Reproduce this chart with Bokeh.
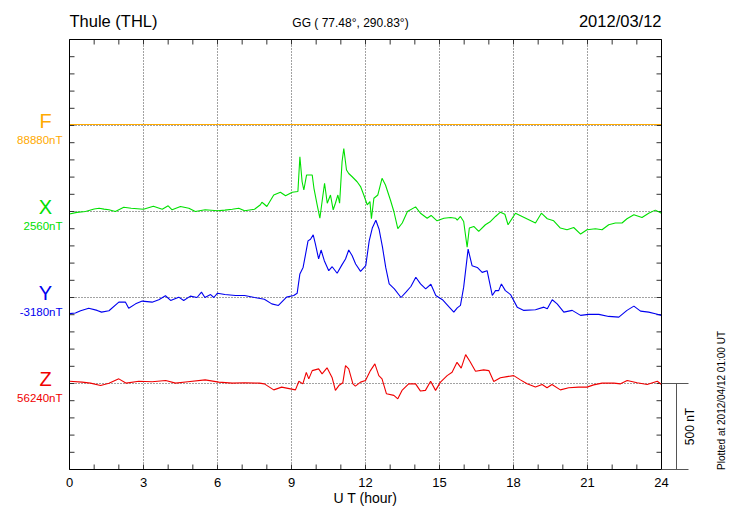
import numpy as np
from bokeh.plotting import figure
from bokeh.models import Range1d, Label
from bokeh.embed import file_html
from bokeh.resources import INLINE

# ---------------- data ----------------
station = "Thule (THL)"
coords = "GG ( 77.48°, 290.83°)"
date = "2012/03/12"
plotted = "Plotted at 2012/04/12 01:00 UT"
scale_text = "500 nT"
x_label = "U T (hour)"

components = ["F", "X", "Y", "Z"]
base_labels = ["88880nT", "2560nT", "-3180nT", "56240nT"]
offsets = [2000, 1500, 1000, 500]          # stacking position of each component (nT)
colors = ["#FFAA00", "#00E000", "#0000F0", "#F00000"]

x_ticks = [0, 3, 6, 9, 12, 15, 18, 21, 24]
x_tick_labels = ["0", "3", "6", "9", "12", "15", "18", "21", "24"]
hour_ticks = list(range(0, 25))
y_minor = list(range(0, 2501, 100))
scale_nt = 500

f_hours = [0, 6, 12, 18, 24]
f_dev = [6, 6, 6, 6, 6]

x_hours = [0.0, 0.3, 0.65, 1.0, 1.2, 1.4, 1.6, 1.86, 2.2, 2.5, 3.0, 3.4, 3.76, 4.0, 4.16,
           4.5, 4.84, 5.1, 5.5, 6.0, 6.3, 6.6, 6.86, 7.1, 7.5, 7.74, 7.8, 7.9, 8.0, 8.28,
           8.55, 8.76, 9.03, 9.26, 9.34, 9.43, 9.5, 9.61, 9.84, 9.91, 10.04, 10.15, 10.24,
           10.34, 10.45, 10.58, 10.69, 10.78, 10.88, 10.95, 11.05, 11.12, 11.23, 11.32,
           11.46, 11.66, 11.8, 11.93, 12.07, 12.18, 12.24, 12.34, 12.5, 12.67, 12.81,
           13.01, 13.15, 13.31, 13.49, 13.7, 14.03, 14.23, 14.5, 14.66, 14.9, 15.18,
           15.45, 15.65, 15.72, 15.85, 15.98, 16.12, 16.21, 16.39, 16.59, 16.86, 17.07,
           17.27, 17.47, 17.65, 17.78, 18.08, 18.35, 18.62, 18.89, 19.13, 19.37, 19.63,
           19.9, 20.17, 20.44, 20.72, 20.98, 21.32, 21.59, 21.86, 22.13, 22.4, 22.6,
           22.88, 23.21, 23.48, 23.75, 24.0]
x_dev = [-15, -5, 0, 15, 19, 14, 10, 0, 25, 19, 13, 30, 13, 33, 10,
         29, 19, 0, 10, 4, 8, 13, 19, 4, 13, 39, 54, 42, 29, 96,
         112, 92, 112, 116, 318, 173, 125, 212, 212, 135, 39, -39, 58,
         164, 48, 96, 10, 48, 96, 48, 289, 366, 241, 221,
         202, 173, 145, 96, 39, 58, -42, 77, 96, 193, 154,
         67, 0, -100, -67, 0, 27, -10, -39, -23, -54, -39,
         -35, -39, -50, -29, -58, -208, -96, -87, -116, -77, -58,
         -29, -4, -16, -77, -10, -29, -48, -67, -10, -42, -54,
         -96, -106, -93, -131, -106, -100, -106, -77, -67, -67, -42,
         -19, -35, -10, 8, -10]

y_hours = [0.0, 0.24, 0.45, 0.78, 1.12, 1.3, 1.6, 2.0, 2.27, 2.4, 2.68, 2.95, 3.35, 3.62,
           3.89, 4.1, 4.43, 4.63, 4.9, 5.17, 5.35, 5.49, 5.72, 5.85, 6.0, 6.3, 6.73, 7.1,
           7.5, 7.9, 8.2, 8.47, 8.6, 8.8, 9.09, 9.23, 9.34, 9.47, 9.56, 9.67, 9.77, 9.88,
           9.97, 10.1, 10.2, 10.33, 10.51, 10.65, 10.85, 11.05, 11.19, 11.32, 11.46, 11.6,
           11.8, 12.01, 12.15, 12.28, 12.42, 12.55, 12.69, 12.82, 12.96, 13.17, 13.44,
           13.64, 13.84, 14.04, 14.23, 14.44, 14.65, 14.85, 15.12, 15.33, 15.58, 15.72,
           15.85, 15.98, 16.16, 16.32, 16.53, 16.73, 16.93, 17.14, 17.27, 17.4, 17.51,
           17.67, 17.88, 18.15, 18.42, 18.89, 19.23, 19.37, 19.57, 19.77, 20.04, 20.38,
           20.72, 21.05, 21.46, 21.86, 22.27, 22.6, 22.88, 23.15, 23.48, 23.75, 24.0]
y_dev = [-94, -90, -77, -62, -75, -85, -77, -27, -27, -62, -37, -21, -27, -13,
         10, -17, 2, -17, 8, 0, 31, 0, 17, 0, 25, 17, 12, 12,
         0, -10, -37, -46, -27, 2, 12, 25, 137, 175, 243, 329, 339, 364,
         310, 224, 276, 214, 156, 179, 141, 191, 224, 276, 243, 195,
         152, 185, 329, 406, 449, 397, 291, 175, 79, 50, 0,
         31, 64, 118, 79, 50, 77, 12, -13, -46, -85, -60,
         -46, 60, 281, 185, 175, 146, 156, 12, 40, 40, 79,
         40, 17, -56, -75, -71, -56, -65, -13, -37, -85, -75,
         -104, -98, -98, -110, -114, -75, -50, -79, -85, -94, -104]

z_hours = [0.0, 0.51, 0.85, 1.26, 1.6, 2.0, 2.3, 2.81, 3.35, 3.9, 4.3, 4.8, 5.5, 6.05,
           6.6, 7.1, 7.7, 7.9, 8.28, 8.6, 9.16, 9.3, 9.46, 9.6, 9.7, 9.84, 10.1, 10.24,
           10.44, 10.65, 10.78, 10.92, 11.08, 11.19, 11.32, 11.49, 11.59, 11.8, 12.0,
           12.2, 12.38, 12.54, 12.67, 12.85, 13.15, 13.31, 13.48, 13.75, 14.03, 14.23,
           14.43, 14.64, 14.84, 15.04, 15.31, 15.51, 15.71, 15.88, 16.06, 16.23, 16.46,
           16.79, 17.0, 17.2, 17.47, 17.74, 18.01, 18.28, 18.55, 18.89, 19.16, 19.36,
           19.56, 19.9, 20.24, 20.64, 20.98, 21.25, 21.59, 22.07, 22.34, 22.61, 23.01,
           23.42, 23.83, 24.0]
z_dev = [13, 8, 2, -12, 2, 27, 2, 13, 10, 17, 2, 10, 21, 8,
         2, 4, 2, -2, -37, -21, -37, 13, -2, 65, 27, 75, 85, 56,
         91, 33, -40, -12, 4, 104, 85, -2, -15, 8, 17,
         75, 114, 46, 27, -60, -69, -89, -40, -2, -2, -44,
         -40, 13, -40, 8, 46, 65, 123, 89, 168, 129, 71,
         79, 75, 12, 33, 40, 46, 21, -2, -21, -6, -25,
         -6, -37, -25, -21, -21, -8, 2, 2, -2, 17, 4,
         -6, 13, -6]

series_hours = [f_hours, x_hours, y_hours, z_hours]
series_dev = [f_dev, x_dev, y_dev, z_dev]

# ---------------- layout (pixels of the 730x520 canvas) ----------------
W, H = 730, 520
FL, FR, FT, FB = 69, 661, 39, 469           # plot-box edges in pixels
T0, T1, V0, V1 = 0.0, 24.0, 0.0, 2500.0      # hours / stacked-nT spanned by the box
PXH = (FR - FL) / (T1 - T0)                  # pixels per hour
PXV = (FB - FT) / (V1 - V0)                  # pixels per nT


def hx(px):
    return T0 + (px - FL) / PXH


def vy(py):
    return V0 + (FB - py) / PXV


FONT = "Liberation Sans"

p = figure(width=W, height=H, x_range=Range1d(hx(0), hx(W)), y_range=Range1d(vy(H), vy(0)),
           x_axis_type=None, y_axis_type=None, output_backend="svg", toolbar_location=None,
           min_border=0)
p.outline_line_color = None
p.background_fill_color = "white"
p.border_fill_color = "white"
p.grid.visible = False

# dotted reference grid: every 3 hours and at each component baseline
grid_hours = x_ticks[1:-1]
p.segment(x0=grid_hours, y0=[V0] * len(grid_hours), x1=grid_hours, y1=[V1] * len(grid_hours),
          line_color="#444444", line_width=1, line_dash="1 2")
p.segment(x0=[T0] * len(offsets), y0=offsets, x1=[T1] * len(offsets), y1=offsets,
          line_color="#444444", line_width=1, line_dash="1 2")

# inward tick marks (5 px)
tlen_v = 5 / PXV
tlen_h = 5 / PXH
n = len(hour_ticks)
p.segment(x0=hour_ticks, y0=[V0] * n, x1=hour_ticks, y1=[V0 + tlen_v] * n,
          line_color="#333333", line_width=1)
p.segment(x0=hour_ticks, y0=[V1] * n, x1=hour_ticks, y1=[V1 - tlen_v] * n,
          line_color="#333333", line_width=1)
m = len(y_minor)
p.segment(x0=[T0] * m, y0=y_minor, x1=[T0 + tlen_h] * m, y1=y_minor,
          line_color="#333333", line_width=1)
p.segment(x0=[T1] * m, y0=y_minor, x1=[T1 - tlen_h] * m, y1=y_minor,
          line_color="#333333", line_width=1)

# data
for comp, lab, off, col, hrs, dev in zip(components, base_labels, offsets, colors,
                                         series_hours, series_dev):
    p.line(hrs, [off + d for d in dev], line_color=col, line_width=1.1)
    by = FB - (off - V0) * PXV
    p.add_layout(Label(x=hx(45), y=vy(by - 5), text=comp,
                       text_align="center", text_baseline="middle",
                       text_font=FONT, text_font_size="20px", text_color=col))
    p.add_layout(Label(x=hx(62), y=vy(by + 14.5), text=lab,
                       text_align="right", text_baseline="middle",
                       text_font=FONT, text_font_size="11.5px", text_color=col))

# box outline
p.quad(left=[T0], right=[T1], bottom=[V0], top=[V1], fill_color=None,
       line_color="black", line_width=1)

# x tick labels and axis title
for t, s in zip(x_ticks, x_tick_labels):
    p.add_layout(Label(x=t, y=vy(482), text=s, text_align="center", text_baseline="middle",
                       text_font=FONT, text_font_size="13px", text_color="black"))
p.add_layout(Label(x=(T0 + T1) / 2, y=vy(497), text=x_label, text_align="center",
                   text_baseline="middle", text_font=FONT, text_font_size="14px",
                   text_color="black"))

# titles
p.add_layout(Label(x=T0, y=vy(20), text=station, text_align="left",
                   text_baseline="middle", text_font=FONT, text_font_size="16.5px",
                   text_color="black"))
p.add_layout(Label(x=T1, y=vy(20), text=date, text_align="right",
                   text_baseline="middle", text_font=FONT, text_font_size="16.5px",
                   text_color="black"))
p.add_layout(Label(x=hx(350), y=vy(22), text=coords, text_align="center",
                   text_baseline="middle", text_font=FONT, text_font_size="12px",
                   text_color="black"))

# 500 nT scale bar right of the box
bar_col = "#555555"
z_off = offsets[-1]
p.segment(x0=[T1, T1, hx(676)], y0=[z_off, z_off - scale_nt, z_off - scale_nt],
          x1=[hx(688), hx(688), hx(676)], y1=[z_off, z_off - scale_nt, z_off],
          line_color=bar_col, line_width=1)
p.add_layout(Label(x=hx(689), y=z_off - scale_nt / 2, angle=np.pi / 2, text=scale_text,
                   text_align="center", text_baseline="middle", text_font=FONT,
                   text_font_size="12px", text_color="black"))
p.add_layout(Label(x=hx(721), y=vy(400), angle=np.pi / 2, text=plotted,
                   text_align="center", text_baseline="middle", text_font=FONT,
                   text_font_size="10px", text_color="black"))

open("out.html", "w").write(file_html(p, INLINE))
